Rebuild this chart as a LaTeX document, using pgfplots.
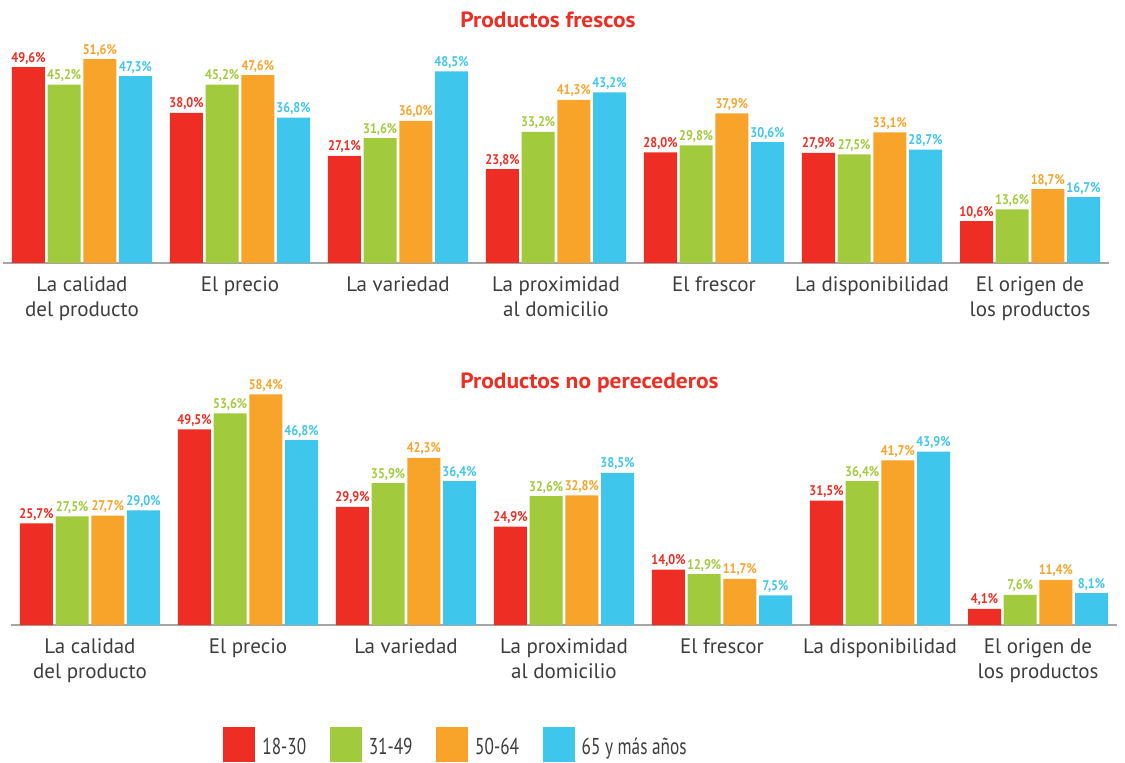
\documentclass[border=0pt]{standalone}
\usepackage{fontspec}
\setmainfont{PT Sans}
\newfontfamily\valfont[FakeStretch=0.87]{PT Sans}
\newfontfamily\legfont[FakeStretch=0.75]{PT Sans}
\newfontfamily\titfont[FakeStretch=1.065]{PT Sans}
\usepackage{pgfplots}
\usepackage{pgfplotstable}
\pgfplotsset{compat=1.18}
\definecolor{cR}{HTML}{EE2D24}
\definecolor{cG}{HTML}{A1CB3C}
\definecolor{cO}{HTML}{F8A42A}
\definecolor{cB}{HTML}{3FC6EC}
\definecolor{labgray}{HTML}{3D3D3D}
\definecolor{axgray}{HTML}{A6A6A6}

% x a=18-30 b=31-49 c=50-64 d=65+
\pgfplotstableread{
x a b c d
0 49.6 45.2 51.6 47.3
1 38.0 45.2 47.6 36.8
2 27.1 31.6 36.0 48.5
3 23.8 33.2 41.3 43.2
4 28.0 29.8 37.9 30.6
5 27.9 27.5 33.1 28.7
6 10.6 13.6 18.7 16.7
}\frescos
\pgfplotstableread{
x a b c d
0 25.7 27.5 27.7 29.0
1 49.5 53.6 58.4 46.8
2 29.9 35.9 42.3 36.4
3 24.9 32.6 32.8 38.5
4 14.0 12.9 11.7 7.5
5 31.5 36.4 41.7 43.9
6 4.1 7.6 11.4 8.1
}\noperec

\pgfplotsset{
  mybars/.style={
    scale only axis, width=553pt,
    xmin=-0.5, xmax=6.5, ymin=0,
    axis y line=none, axis x line*=bottom,
    x axis line style={draw=axgray, line width=1pt, -},
    xtick={0,...,6}, major tick length=0pt,
    xticklabels={{La calidad\\del producto},{El precio},{La variedad},{La proximidad\\al domicilio},{El frescor},{La disponibilidad},{El origen de\\los productos}},
    xticklabel style={align=center, font=\fontsize{10.5}{12.8}\selectfont, text=labgray, anchor=north, yshift=-6.4pt, inner sep=0pt},
    ybar, bar width=16.5pt,
    nodes near coords={\pgfmathprintnumber[fixed,fixed zerofill,precision=1,use comma,assume math mode=true]{\pgfplotspointmeta}\%},
    every node near coord/.append style={font=\valfont\bfseries\fontsize{7}{8}\selectfont, anchor=base, yshift=2.5pt, inner sep=0pt},
    clip=false,
  },
  sR/.style={fill=cR, draw=none, bar shift=-26.75pt, every node near coord/.append style={text=cR}},
  sG/.style={fill=cG, draw=none, bar shift=-8.92pt, every node near coord/.append style={text=cG}},
  sO/.style={fill=cO, draw=none, bar shift=8.92pt, every node near coord/.append style={text=cO}},
  sB/.style={fill=cB, draw=none, bar shift=26.75pt, every node near coord/.append style={text=cB}},
}

\begin{document}
\begin{tikzpicture}
\path[use as bounding box] (0pt,0pt) rectangle (562.5pt,381pt);

\begin{axis}[mybars, at={(1.5pt,249.5pt)}, anchor=south west, ymax=55, height=108.6pt]
\addplot[sR] table[x=x,y=a] {\frescos};
\addplot[sG] table[x=x,y=b] {\frescos};
\addplot[sO] table[x=x,y=c] {\frescos};
\addplot[sB] table[x=x,y=d] {\frescos};
\end{axis}

\begin{axis}[mybars, at={(5.5pt,68.5pt)}, anchor=south west, ymax=60, height=118.5pt,
  legend columns=4,
  legend image code/.code={\fill[#1] (0pt,-8.75pt) rectangle (16pt,8.75pt);},
  legend style={at={(rel axis cs:0.1917,-0.5042)}, anchor=west, draw=none, fill=none, inner sep=0pt,
    font=\legfont\fontsize{11.5}{13}\selectfont, text=labgray,
    nodes={inner sep=0pt, yshift=-1.5pt},
    /tikz/every odd column/.append style={column sep=3.5pt},
    /tikz/every even column/.append style={column sep=11.8pt}},
]
\addplot[sR] table[x=x,y=a] {\noperec};
\addplot[sG] table[x=x,y=b] {\noperec};
\addplot[sO] table[x=x,y=c] {\noperec};
\addplot[sB] table[x=x,y=d] {\noperec};
\legend{18-30,31-49,50-64,65 y más años}
\end{axis}

\node[anchor=base west, inner sep=0pt, text=cR, font=\titfont\bfseries\fontsize{11}{12}\selectfont] at (230pt,367.3pt) {Productos frescos};
\node[anchor=base west, inner sep=0pt, text=cR, font=\titfont\bfseries\fontsize{11}{12}\selectfont] at (230pt,187pt) {Productos no perecederos};
\end{tikzpicture}
\end{document}
